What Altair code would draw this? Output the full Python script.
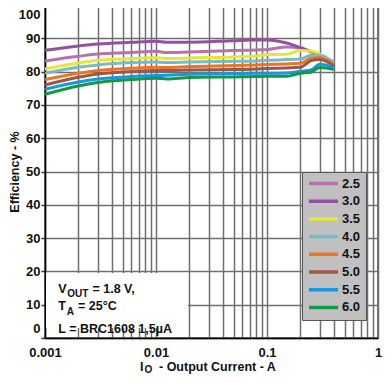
import altair as alt
import pandas as pd

# ---- data ----
currents = [0.001, 0.002, 0.003, 0.006, 0.01, 0.0125, 0.02, 0.05, 0.08, 0.1, 0.15, 0.2, 0.25, 0.3, 0.4]
vin_labels = ["2.5", "3.0", "3.5", "4.0", "4.5", "5.0", "5.5", "6.0"]
eff_25 = [83.2, 84.6, 85.3, 85.7, 86.1, 85.7, 85.9, 86.3, 86.5, 86.6, 87.4, 87.0, 85.9, 84.9, 82.9]
eff_30 = [86.4, 87.7, 88.3, 88.8, 89.1, 88.8, 88.8, 89.3, 89.5, 89.5, 88.6, 87.2, 86.0, 84.8, 82.8]
eff_35 = [80.8, 82.6, 83.4, 83.9, 84.2, 83.9, 84.1, 84.4, 84.7, 85.1, 85.2, 86.3, 86.2, 85.2, 82.6]
eff_40 = [79.5, 81.3, 82.0, 82.7, 82.9, 82.7, 82.9, 83.1, 83.2, 83.4, 83.6, 83.8, 84.9, 84.9, 82.5]
eff_45 = [77.6, 79.5, 80.3, 81.0, 81.3, 81.2, 81.5, 81.8, 82.0, 82.1, 82.3, 82.5, 84.0, 84.2, 82.0]
eff_50 = [76.0, 78.3, 79.3, 80.0, 80.3, 80.3, 80.5, 80.6, 80.8, 80.9, 81.1, 81.3, 83.3, 83.6, 81.7]
eff_55 = [74.7, 76.9, 77.8, 78.5, 78.8, 78.9, 79.2, 79.4, 79.5, 79.5, 79.6, 80.1, 80.5, 82.2, 81.2]
eff_60 = [73.2, 75.7, 76.7, 77.6, 78.0, 77.8, 78.2, 78.4, 78.5, 78.6, 78.6, 79.5, 79.9, 81.2, 80.6]
series = [eff_25, eff_30, eff_35, eff_40, eff_45, eff_50, eff_55, eff_60]
line_colors = ["#b473b0", "#9450a0", "#e9e43a", "#76bcc0", "#ec7428", "#9c5844", "#1499e0", "#139848"]

x_ticks = [0.001, 0.002, 0.003, 0.004, 0.005, 0.006, 0.007, 0.008, 0.009,
           0.01, 0.02, 0.03, 0.04, 0.05, 0.06, 0.07, 0.08, 0.09,
           0.1, 0.2, 0.3, 0.4, 0.5, 0.6, 0.7, 0.8, 0.9, 1]
y_ticks = [0, 10, 20, 30, 40, 50, 60, 70, 80, 90, 100]

rows = []
for lab, vals in zip(vin_labels, series):
    for c, e in zip(currents, vals):
        rows.append({"I": c, "Eff": e, "Vin": lab})
df = pd.DataFrame(rows)

FONT = "Liberation Sans"
GRID = "#6f6f6f"

lines = alt.Chart(df).mark_line(strokeWidth=3, interpolate="monotone").encode(
    x=alt.X("I:Q", scale=alt.Scale(type="log", domain=[0.001, 1]),
            axis=alt.Axis(values=x_ticks, title=None, grid=True, ticks=False,
                          labelExpr="indexof(['0.001','0.01','0.1','1'], ''+datum.value) >= 0 ? ''+datum.value : ''",
                          labelOverlap=False, labelFlush=False, labelPadding=8,
                          gridColor=GRID, gridWidth=1.5, domainColor="black", domainWidth=1.5,
                          labelFont=FONT, labelFontWeight="bold", labelFontSize=13, labelColor="#111")),
    y=alt.Y("Eff:Q", scale=alt.Scale(domain=[0, 100]),
            axis=alt.Axis(values=y_ticks, title="Efficiency - %", grid=True,
                          tickSize=4, tickColor="#333", tickWidth=1.5, labelPadding=1,
                          labelFlush=True, labelFlushOffset=-3, labelOverlap=False,
                          gridColor=GRID, gridWidth=1.5, domainColor="black", domainWidth=1.5,
                          labelFont=FONT, labelFontWeight="bold", labelFontSize=13, labelColor="#111",
                          titleFont=FONT, titleFontWeight="bold", titleFontSize=12.5, titleColor="#111",
                          titleAngle=270, titleAlign="center", titleBaseline="middle",
                          titleX=-31, titleY=166.5)),
    color=alt.Color("Vin:N", title=None,
                    scale=alt.Scale(domain=vin_labels, range=line_colors),
                    legend=alt.Legend(orient="none", legendX=257, legendY=167,
                                      fillColor="#c0c0c0", strokeColor="#555", padding=5,
                                      symbolType="stroke", symbolSize=841, symbolStrokeWidth=3.5,
                                      clipHeight=13, rowPadding=3.7, labelOffset=2,
                                      labelFont=FONT, labelFontWeight="bold", labelFontSize=13,
                                      labelColor="#111")),
)

one = pd.DataFrame({"k": [0]})

box = alt.Chart(one).mark_rect(fill="white").encode(
    x=alt.value(1), x2=alt.value(143), y=alt.value(268), y2=alt.value(323))


def txt(s, x, y, size=12.5):
    return alt.Chart(one).mark_text(text=s, align="left", baseline="alphabetic", font=FONT,
                                    fontWeight="bold", fontSize=size, color="#111").encode(
        x=alt.value(x), y=alt.value(y))


notes = [
    txt("V", 13.3, 288.3), txt("OUT", 22.3, 292, 10), txt("= 1.8 V,", 47.5, 288.3),
    txt("T", 13.3, 305), txt("A", 21.8, 309.5, 10), txt("= 25°C", 33, 305),
    txt("L = BRC1608 1,5µA", 13.3, 327.7),
    txt("I", 95, 365.5), txt("O", 99.5, 368, 10), txt("- Output Current - A", 114, 365.5),
]

chart = alt.layer(lines, box, *notes).properties(
    width=333, height=333,
    autosize=alt.AutoSizeParams(type="none"),
    padding={"left": 37, "top": -3, "right": 5, "bottom": 37},
).configure_view(stroke="#444", strokeWidth=1.5)

chart.save("out.html", embed_options={"renderer": "svg", "actions": False})
